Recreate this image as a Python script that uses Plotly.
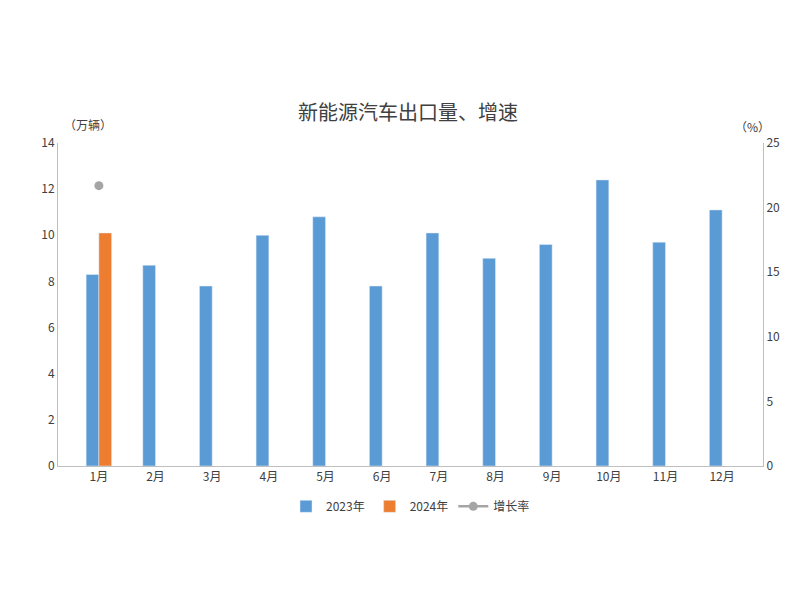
import plotly.graph_objects as go

months = ["1月","2月","3月","4月","5月","6月","7月","8月","9月","10月","11月","12月"]
v2023 = [8.3, 8.7, 7.8, 10.0, 10.8, 7.8, 10.1, 9.0, 9.6, 12.4, 9.7, 11.1]
v2024 = [10.1, None, None, None, None, None, None, None, None, None, None, None]
growth = [21.7, None, None, None, None, None, None, None, None, None, None, None]

font = "Noto Sans CJK SC"
fig = go.Figure()
fig.add_bar(x=months, y=v2023, name="2023年", marker_color="#5B9BD5")
fig.add_bar(x=months, y=v2024, name="2024年", marker_color="#ED7D31")
fig.add_scatter(x=months, y=growth, name="增长率", yaxis="y2", mode="lines+markers",
                marker=dict(color="#A5A5A5", size=9), line=dict(color="#A5A5A5", width=2.5))

fig.update_layout(
    width=800, height=600, plot_bgcolor="white", paper_bgcolor="white",
    font=dict(family=font, size=12, color="#404040"),
    title=dict(text="新能源汽车出口量、增速", x=0.5, xanchor="center", y=0.825, yanchor="middle",
               font=dict(size=20, color="#404040")),
    margin=dict(l=50, r=45, t=135, b=142),
    barmode="group", bargap=0.55, bargroupgap=0,
    showlegend=True,
    legend=dict(orientation="h", x=0.5, xanchor="center", y=-0.08, yanchor="top",
                font=dict(size=12), traceorder="normal"),
    xaxis=dict(showline=True, linecolor="#BFBFBF", ticks="", tickfont=dict(size=12), automargin=False),
    yaxis=dict(range=[0, 14], dtick=2, showgrid=False, showline=True, linecolor="#BFBFBF",
               zeroline=False, ticks="", tickfont=dict(size=12), automargin=False),
    yaxis2=dict(range=[0, 25], dtick=5, overlaying="y", side="right", showgrid=False,
                showline=True, linecolor="#BFBFBF", zeroline=False, ticks="", tickfont=dict(size=12),
                automargin=False),
    annotations=[
        dict(text="（万辆）", xref="paper", yref="paper", x=0.005, y=1.025, xanchor="left", yanchor="bottom",
             showarrow=False, font=dict(size=12)),
        dict(text="（%）", xref="paper", yref="paper", x=0.985, y=1.02, xanchor="center", yanchor="bottom",
             showarrow=False, font=dict(size=12)),
    ],
)
fig.write_html("out.html")
